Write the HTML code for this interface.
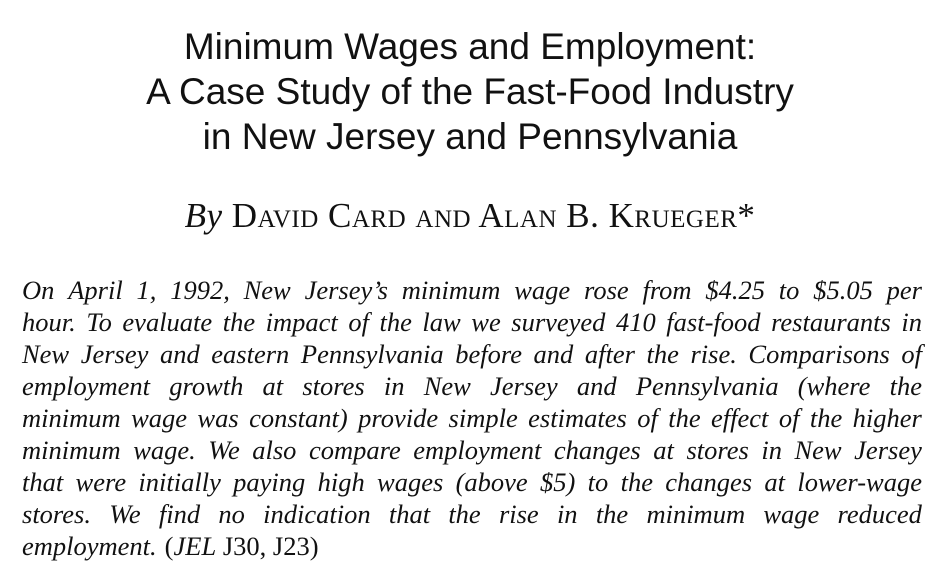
<!DOCTYPE html>
<html><head><meta charset="utf-8">
<style>
html,body{margin:0;padding:0;background:#fff;}
body{width:940px;height:566px;position:relative;overflow:hidden;color:#111;}
.t{position:absolute;left:0;width:940px;text-align:center;font-family:"Liberation Sans",Arial,sans-serif;font-size:37px;line-height:44px;}
.by{position:absolute;left:0;width:940px;text-align:center;top:196px;font-family:"Liberation Serif",serif;font-size:35px;line-height:40px;letter-spacing:0.5px;}
.by .sc{font-variant:small-caps;}
.ab{position:absolute;left:22px;width:900px;font-family:"Liberation Serif",serif;font-style:italic;font-size:26.5px;}
.ln{position:absolute;left:0;width:900px;height:32px;line-height:32px;display:flex;justify-content:space-between;white-space:nowrap;}
.ln.last{justify-content:flex-start;}
.ln.last span{margin-right:8px;}
.up{font-style:normal;}
</style></head>
<body>
<div class="t" style="top:25px">Minimum Wages and Employment:</div>
<div class="t" style="top:70px">A Case Study of the Fast-Food Industry</div>
<div class="t" style="top:115px">in New Jersey and Pennsylvania</div>
<div class="by"><i>By</i> <span class="sc">David Card and Alan B. Krueger</span>*</div>
<div class="ab" style="top:0">
<div class="ln" style="top:274px">On April 1, 1992, New Jersey’s minimum wage rose from $4.25 to $5.05 per</div>
<div class="ln" style="top:306px">hour. To evaluate the impact of the law we surveyed 410 fast-food restaurants in</div>
<div class="ln" style="top:338px">New Jersey and eastern Pennsylvania before and after the rise. Comparisons of</div>
<div class="ln" style="top:370px">employment growth at stores in New Jersey and Pennsylvania (where the</div>
<div class="ln" style="top:402px">minimum wage was constant) provide simple estimates of the effect of the higher</div>
<div class="ln" style="top:434px">minimum wage. We also compare employment changes at stores in New Jersey</div>
<div class="ln" style="top:466px">that were initially paying high wages (above $5) to the changes at lower-wage</div>
<div class="ln" style="top:498px">stores. We find no indication that the rise in the minimum wage reduced</div>
<div class="ln last" style="top:530px"><span>employment.</span><span class="up">(<i>JEL</i> J30, J23)</span></div>
</div>
<script>
document.querySelectorAll('.ln').forEach(function(l,i){
  
  
  if(l.classList.contains('last')) return;
  var words=l.textContent.trim().split(/\s+/);
  l.textContent='';
  words.forEach(function(w){var s=document.createElement('span');s.textContent=w;
    
    
    l.appendChild(s);});
});
</script>
</body></html>
